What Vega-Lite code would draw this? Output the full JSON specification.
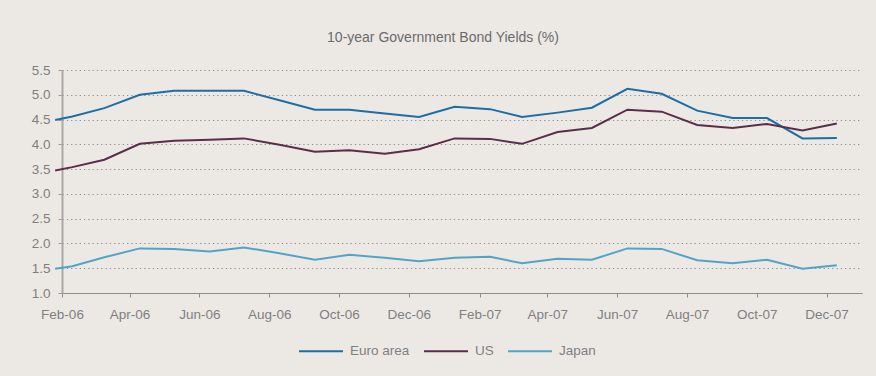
{
  "$schema": "https://vega.github.io/schema/vega-lite/v6.json",
  "width": 800,
  "height": 223,
  "autosize": {"type": "none"},
  "padding": {"left": 62, "top": 70, "right": 14, "bottom": 83},
  "background": "#ECE9E5",
  "title": {
    "text": "10-year Government Bond Yields (%)",
    "font": "Liberation Sans",
    "fontSize": 14,
    "fontWeight": "normal",
    "color": "#6b6b6b",
    "anchor": "middle",
    "dx": -19,
    "offset": 18
  },
  "config": {
    "view": {"stroke": null},
    "font": "Liberation Sans"
  },
  "data": {
    "values": [
      {"date": "2006-01-26", "series": "Euro area", "value": 4.49},
      {"date": "2006-02-10", "series": "Euro area", "value": 4.56},
      {"date": "2006-03-10", "series": "Euro area", "value": 4.73},
      {"date": "2006-04-10", "series": "Euro area", "value": 5.0},
      {"date": "2006-05-10", "series": "Euro area", "value": 5.08},
      {"date": "2006-06-10", "series": "Euro area", "value": 5.08},
      {"date": "2006-07-10", "series": "Euro area", "value": 5.08},
      {"date": "2006-08-10", "series": "Euro area", "value": 4.89},
      {"date": "2006-09-10", "series": "Euro area", "value": 4.7},
      {"date": "2006-10-10", "series": "Euro area", "value": 4.7},
      {"date": "2006-11-10", "series": "Euro area", "value": 4.62},
      {"date": "2006-12-10", "series": "Euro area", "value": 4.55},
      {"date": "2007-01-10", "series": "Euro area", "value": 4.76},
      {"date": "2007-02-10", "series": "Euro area", "value": 4.71},
      {"date": "2007-03-10", "series": "Euro area", "value": 4.55},
      {"date": "2007-04-10", "series": "Euro area", "value": 4.64},
      {"date": "2007-05-10", "series": "Euro area", "value": 4.74},
      {"date": "2007-06-10", "series": "Euro area", "value": 5.12},
      {"date": "2007-07-10", "series": "Euro area", "value": 5.02},
      {"date": "2007-08-10", "series": "Euro area", "value": 4.68},
      {"date": "2007-09-10", "series": "Euro area", "value": 4.53},
      {"date": "2007-10-10", "series": "Euro area", "value": 4.53},
      {"date": "2007-11-10", "series": "Euro area", "value": 4.12},
      {"date": "2007-12-10", "series": "Euro area", "value": 4.13},
      {"date": "2006-01-26", "series": "US", "value": 3.47},
      {"date": "2006-02-10", "series": "US", "value": 3.54},
      {"date": "2006-03-10", "series": "US", "value": 3.69},
      {"date": "2006-04-10", "series": "US", "value": 4.01},
      {"date": "2006-05-10", "series": "US", "value": 4.07},
      {"date": "2006-06-10", "series": "US", "value": 4.09},
      {"date": "2006-07-10", "series": "US", "value": 4.12},
      {"date": "2006-08-10", "series": "US", "value": 3.99},
      {"date": "2006-09-10", "series": "US", "value": 3.85},
      {"date": "2006-10-10", "series": "US", "value": 3.88},
      {"date": "2006-11-10", "series": "US", "value": 3.81},
      {"date": "2006-12-10", "series": "US", "value": 3.9},
      {"date": "2007-01-10", "series": "US", "value": 4.12},
      {"date": "2007-02-10", "series": "US", "value": 4.11},
      {"date": "2007-03-10", "series": "US", "value": 4.01},
      {"date": "2007-04-10", "series": "US", "value": 4.25},
      {"date": "2007-05-10", "series": "US", "value": 4.33},
      {"date": "2007-06-10", "series": "US", "value": 4.7},
      {"date": "2007-07-10", "series": "US", "value": 4.66},
      {"date": "2007-08-10", "series": "US", "value": 4.39},
      {"date": "2007-09-10", "series": "US", "value": 4.33},
      {"date": "2007-10-10", "series": "US", "value": 4.41},
      {"date": "2007-11-10", "series": "US", "value": 4.28},
      {"date": "2007-12-10", "series": "US", "value": 4.42},
      {"date": "2006-01-26", "series": "Japan", "value": 1.49},
      {"date": "2006-02-10", "series": "Japan", "value": 1.54},
      {"date": "2006-03-10", "series": "Japan", "value": 1.72},
      {"date": "2006-04-10", "series": "Japan", "value": 1.9},
      {"date": "2006-05-10", "series": "Japan", "value": 1.89},
      {"date": "2006-06-10", "series": "Japan", "value": 1.84},
      {"date": "2006-07-10", "series": "Japan", "value": 1.92},
      {"date": "2006-08-10", "series": "Japan", "value": 1.8},
      {"date": "2006-09-10", "series": "Japan", "value": 1.67},
      {"date": "2006-10-10", "series": "Japan", "value": 1.77},
      {"date": "2006-11-10", "series": "Japan", "value": 1.71},
      {"date": "2006-12-10", "series": "Japan", "value": 1.64},
      {"date": "2007-01-10", "series": "Japan", "value": 1.71},
      {"date": "2007-02-10", "series": "Japan", "value": 1.73},
      {"date": "2007-03-10", "series": "Japan", "value": 1.6},
      {"date": "2007-04-10", "series": "Japan", "value": 1.69},
      {"date": "2007-05-10", "series": "Japan", "value": 1.67},
      {"date": "2007-06-10", "series": "Japan", "value": 1.9},
      {"date": "2007-07-10", "series": "Japan", "value": 1.89},
      {"date": "2007-08-10", "series": "Japan", "value": 1.66},
      {"date": "2007-09-10", "series": "Japan", "value": 1.6},
      {"date": "2007-10-10", "series": "Japan", "value": 1.67},
      {"date": "2007-11-10", "series": "Japan", "value": 1.49},
      {"date": "2007-12-10", "series": "Japan", "value": 1.56}
    ]
  },
  "mark": {"type": "line", "strokeWidth": 2, "clip": false},
  "encoding": {
    "x": {
      "field": "date",
      "type": "temporal",
      "title": null,
      "scale": {
        "type": "utc",
        "domain": [
          {"year": 2006, "month": "feb", "date": 1, "utc": true},
          {"year": 2008, "month": "jan", "date": 1, "utc": true}
        ]
      },
      "axis": {
        "values": [
          {"year": 2006, "month": "feb", "date": 1, "utc": true},
          {"year": 2006, "month": "apr", "date": 1, "utc": true},
          {"year": 2006, "month": "jun", "date": 1, "utc": true},
          {"year": 2006, "month": "aug", "date": 1, "utc": true},
          {"year": 2006, "month": "oct", "date": 1, "utc": true},
          {"year": 2006, "month": "dec", "date": 1, "utc": true},
          {"year": 2007, "month": "feb", "date": 1, "utc": true},
          {"year": 2007, "month": "apr", "date": 1, "utc": true},
          {"year": 2007, "month": "jun", "date": 1, "utc": true},
          {"year": 2007, "month": "aug", "date": 1, "utc": true},
          {"year": 2007, "month": "oct", "date": 1, "utc": true},
          {"year": 2007, "month": "dec", "date": 1, "utc": true}
        ],
        "labelExpr": "utcFormat(datum.value, '%b-%y')",
        "grid": false,
        "domainColor": "#8c8c8c",
        "domainWidth": 1.2,
        "tickColor": "#8c8c8c",
        "tickSize": 4,
        "labelColor": "#7f7f7f",
        "labelFontSize": 13.5,
        "labelPadding": 10,
        "labelFlush": false,
        "labelOverlap": false
      }
    },
    "y": {
      "field": "value",
      "type": "quantitative",
      "title": null,
      "scale": {"domain": [1, 5.5], "nice": false, "zero": false},
      "axis": {
        "values": [1, 1.5, 2, 2.5, 3, 3.5, 4, 4.5, 5, 5.5],
        "format": ".1f",
        "grid": true,
        "gridColor": "#8f8f8f",
        "gridDash": [1.3, 3],
        "gridWidth": 1,
        "domainColor": "#aaa7a4",
        "domainWidth": 2,
        "tickColor": "#9a9a9a",
        "tickSize": 4,
        "labelColor": "#7f7f7f",
        "labelFontSize": 13.5,
        "labelPadding": 8
      }
    },
    "color": {
      "field": "series",
      "type": "nominal",
      "scale": {
        "domain": ["Euro area", "US", "Japan"],
        "range": ["#1D6EA5", "#5C2C4B", "#51A4C6"]
      },
      "legend": {
        "title": null,
        "orient": "none",
        "legendX": 236,
        "legendY": 258,
        "direction": "horizontal",
        "symbolType": "stroke",
        "symbolSize": 1936,
        "symbolStrokeWidth": 2,
        "labelFontSize": 13.5,
        "labelColor": "#7f7f7f",
        "labelOffset": 6,
        "columnPadding": 10
      }
    }
  }
}
